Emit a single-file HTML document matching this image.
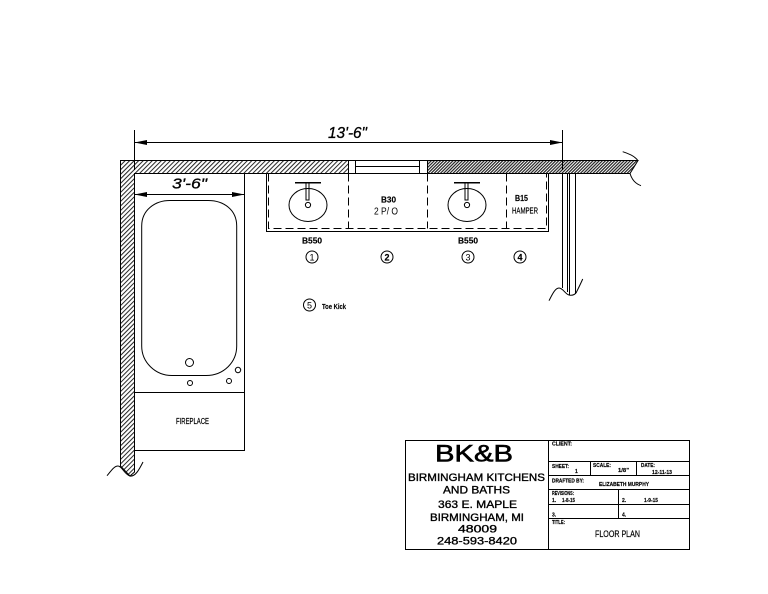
<!DOCTYPE html>
<html><head><meta charset="utf-8"><style>
html,body{margin:0;padding:0;background:#fff}
svg{display:block}
text{font-family:"Liberation Sans",sans-serif;fill:#000}
.l{fill:none;stroke:#000;stroke-width:1}
.t{font-weight:bold;stroke:#000;stroke-width:.15}
</style></head><body>
<svg width="768" height="594" viewBox="0 0 768 594" xmlns="http://www.w3.org/2000/svg">
<defs>
<pattern id="h" width="3.2" height="3.2" patternUnits="userSpaceOnUse" patternTransform="rotate(45)"><rect width="3.2" height="3.2" fill="#fff"/><rect width="1" height="3.2" fill="#222"/></pattern>
<pattern id="d" width="2.2" height="2.2" patternUnits="userSpaceOnUse" patternTransform="rotate(45)"><rect width="2.2" height="2.2" fill="#fff"/><rect width="1.2" height="2.2" fill="#222"/></pattern>
</defs>
<!-- walls -->
<path d="M120.5 160.5H348.5V173.5H134.5V472L130 476L120.5 466Z" fill="url(#h)" stroke="#000"/>
<path d="M427.5 160.5H638L630 173.5H427.5Z" fill="url(#d)" stroke="#000"/>
<path class="l" d="M348.5 160.5H427.5M348.5 173.5H427.5M355.5 160.5V173.5M419.5 160.5V173.5M355.5 166.5H419.5"/>
<path class="l" d="M622.7 151.7C630 154 636 157 638 161M630 173.5C632 180 636 184 641 185.7"/>
<path class="l" d="M107 475.7C111 471 114 466 118 466C122 466 124 474 130 476C135 477 139 470 143 462"/>
<!-- right wall -->
<path class="l" d="M562.5 173.5V288M567.5 173.5V292M569.5 173.5V295M575.5 173.5V294"/>
<path class="l" d="M549 300.7C552 295 555 288 559 288C563 288 565 294 569 295C573 296 576 294 577 291C579 287 581 283 582.7 279"/>
<!-- dimension top -->
<path class="l" d="M134.5 130V170M562.5 130V170M134.5 142.5H562.5"/>
<path d="M134.5 142.5L147 140V145ZM562.5 142.5L550 140V145Z"/>
<text x="328" y="138" font-size="16" textLength="39" lengthAdjust="spacingAndGlyphs" font-style="italic" stroke="#000" stroke-width=".3">13'-6"</text>
<!-- tub enclosure -->
<path class="l" d="M244.5 173.5V450.5H134.5M134.5 392.5H244.5"/>
<path class="l" d="M134.5 194.5H244.5"/>
<path d="M134.5 194.5L147 192V197ZM244.5 194.5L232 192V197Z"/>
<text x="172" y="188.5" font-size="15" textLength="35" lengthAdjust="spacingAndGlyphs" font-style="italic" stroke="#000" stroke-width=".3">3'-6"</text>
<path class="l" d="M141.7 226C141.7 210 155 200.5 170 200.5H208C224 200.5 236.7 210 236.7 226V346C236.7 362 224 375.5 206 375.5H172C155 375.5 141.7 362 141.7 346Z"/>
<circle class="l" cx="189.5" cy="362.5" r="4"/>
<circle class="l" cx="190" cy="383" r="2.5"/>
<circle class="l" cx="229" cy="381" r="2.5"/>
<circle class="l" cx="238" cy="370" r="2.7"/>
<text x="176" y="424" font-size="8" textLength="33" lengthAdjust="spacingAndGlyphs" stroke="#000" stroke-width=".2">FIREPLACE</text>
<!-- vanity -->
<path class="l" d="M266.5 173.5V231.5H548.5V173.5"/>
<path class="l" stroke-dasharray="8 4" d="M268.5 173.5V228.5H546.5V173.5M348.5 173.5V228.5M427.5 173.5V228.5M506.5 173.5V228.5"/>
<ellipse class="l" cx="308" cy="205" rx="19" ry="16.5"/>
<ellipse class="l" cx="467" cy="205" rx="19" ry="16.5"/>
<path d="M295 182h26v1.5h-26zM454 182h26v1.5h-26z"/>
<path class="l" d="M306 183V200H309V183M465 183V200H468V183"/>
<circle class="l" cx="308" cy="205" r="2.6"/>
<circle class="l" cx="467" cy="205" r="2.6"/>
<text class="t" x="302" y="243.5" font-size="8" textLength="20" lengthAdjust="spacingAndGlyphs">B550</text>
<text class="t" x="458" y="243.5" font-size="8" textLength="20" lengthAdjust="spacingAndGlyphs">B550</text>
<text class="t" x="381" y="202.5" font-size="8" textLength="15" lengthAdjust="spacingAndGlyphs">B30</text>
<text x="374" y="214.5" font-size="10" textLength="24" lengthAdjust="spacingAndGlyphs">2 P/ O</text>
<text class="t" x="515" y="201" font-size="8" textLength="13" lengthAdjust="spacingAndGlyphs">B15</text>
<text x="512" y="213.5" font-size="8.5" textLength="26" lengthAdjust="spacingAndGlyphs" stroke="#000" stroke-width=".2">HAMPER</text>
<!-- tags -->
<g fill="none" stroke="#000"><circle cx="312" cy="257" r="6"/><circle cx="387" cy="257" r="6"/><circle cx="468" cy="257" r="6"/><circle cx="520" cy="257" r="6"/><circle cx="309.5" cy="305" r="6"/></g>
<g font-size="9" text-anchor="middle"><text x="312" y="260.5">1</text><text class="t" x="387" y="260.5">2</text><text x="468" y="260.5">3</text><text class="t" x="520" y="260.5">4</text><text x="309.5" y="308.5">5</text></g>
<text class="t" x="322" y="309" font-size="7.5" textLength="24" lengthAdjust="spacingAndGlyphs">Toe Kick</text>
<!-- title block -->
<rect class="l" x="405.5" y="440.5" width="284" height="109"/>
<path class="l" d="M548.5 440.5V549.5M548.5 461.5H689.5M548.5 475.5H689.5M548.5 489.5H689.5M548.5 504.5H689.5M548.5 518.5H689.5M590.5 461.5V475.5M636.5 461.5V475.5M618.5 489.5V518.5"/>
<text x="435" y="461.5" font-size="24" textLength="78" lengthAdjust="spacingAndGlyphs" stroke="#000" stroke-width=".6">BK&amp;B</text>
<g stroke="#000" stroke-width=".35">
<text x="408" y="481" font-size="11" textLength="137" lengthAdjust="spacingAndGlyphs">BIRMINGHAM KITCHENS</text>
<text x="443" y="493.5" font-size="11" textLength="67" lengthAdjust="spacingAndGlyphs">AND BATHS</text>
<text x="438" y="508" font-size="11" textLength="79" lengthAdjust="spacingAndGlyphs">363 E. MAPLE</text>
<text x="430" y="521" font-size="11" textLength="94" lengthAdjust="spacingAndGlyphs">BIRMINGHAM, MI</text>
<text x="458" y="532.5" font-size="11" textLength="39" lengthAdjust="spacingAndGlyphs">48009</text>
<text x="437" y="544.5" font-size="11" textLength="80" lengthAdjust="spacingAndGlyphs">248-593-8420</text>
</g>
<g font-size="5" font-weight="bold" stroke="#000" stroke-width=".15">
<text x="552" y="445.5" textLength="20" lengthAdjust="spacingAndGlyphs">CLIENT:</text>
<text x="552" y="468" textLength="17" lengthAdjust="spacingAndGlyphs">SHEET:</text>
<text x="575" y="473">1</text>
<text x="593" y="467" textLength="18" lengthAdjust="spacingAndGlyphs">SCALE:</text>
<text x="618" y="472" textLength="11" lengthAdjust="spacingAndGlyphs">1/8"</text>
<text x="641" y="467" textLength="14" lengthAdjust="spacingAndGlyphs">DATE:</text>
<text x="652" y="474" textLength="20" lengthAdjust="spacingAndGlyphs">12-11-13</text>
<text x="552" y="482.5" textLength="32" lengthAdjust="spacingAndGlyphs">DRAFTED BY:</text>
<text x="599" y="486" textLength="50" lengthAdjust="spacingAndGlyphs">ELIZABETH MURPHY</text>
<text x="552" y="495" textLength="22" lengthAdjust="spacingAndGlyphs">REVISIONS:</text>
<text x="552" y="502">1.</text>
<text x="562" y="502" textLength="13" lengthAdjust="spacingAndGlyphs">1-8-15</text>
<text x="622" y="502">2.</text>
<text x="644" y="502" textLength="14" lengthAdjust="spacingAndGlyphs">1-9-15</text>
<text x="552" y="516.5">3.</text>
<text x="622" y="516.5">4.</text>
<text x="552" y="524" textLength="13" lengthAdjust="spacingAndGlyphs">TITLE:</text>
</g>
<text x="595" y="537" font-size="9" textLength="45" lengthAdjust="spacingAndGlyphs" stroke="#000" stroke-width=".2">FLOOR PLAN</text>
</svg>
</body></html>
